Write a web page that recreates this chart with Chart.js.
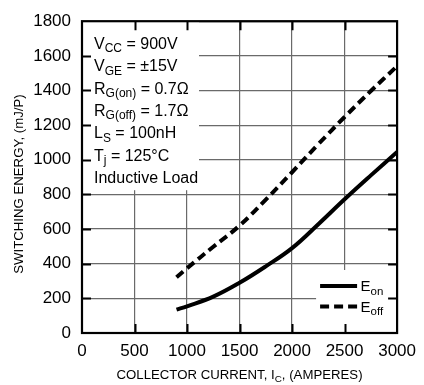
<!DOCTYPE html>
<html>
<head>
<meta charset="utf-8">
<script src="https://cdn.jsdelivr.net/npm/chart.js@4.4.1/dist/chart.umd.min.js"></script>
<style>
  html, body { margin: 0; padding: 0; background: #fff; }
  #wrap { width: 424px; height: 385px; }
</style>
</head>
<body>
<div id="wrap"><canvas id="chart" width="424" height="385"></canvas></div>
<script>
// collector current (A) and switching energy per pulse (mJ)
const currentAmps = [900, 1000, 1250, 1500, 1750, 2000, 2250, 2500, 2750, 3000];
const eOn  = [135, 154, 210, 290, 385, 490, 628, 772, 910, 1045];
const eOff = [322, 374, 498, 620, 770, 928, 1090, 1247, 1397, 1541];

const xTicks = [0, 500, 1000, 1500, 2000, 2500, 3000];
const yTicks = [0, 200, 400, 600, 800, 1000, 1200, 1400, 1600, 1800];

// test conditions: [symbol, subscript, rest]
const conditions = [
    ['V', 'CC', ' = 900V'],
    ['V', 'GE', ' = \u00b115V'],
    ['R', 'G(on)', ' = 0.7\u03a9'],
    ['R', 'G(off)', ' = 1.7\u03a9'],
    ['L', 'S', ' = 100nH'],
    ['T', 'j', ' = 125\u00b0C'],
    ['Inductive Load', '', '']
];
const legendLabels = [['E', 'on'], ['E', 'off']];
const xTitle = ['COLLECTOR CURRENT, I', 'C', ', (AMPERES)'];
const yTitle = 'SWITCHING ENERGY, (mJ/P)';

const FONT = '"Liberation Sans", Arial, Helvetica, sans-serif';

const toPoints = ys => currentAmps.map((x, i) => ({x: x, y: ys[i]}));

// draws "main + subscript + rest", returns end x
function subText(ctx, x, y, parts, size, subSize, shift) {
    ctx.font = `${size}px ${FONT}`;
    ctx.fillText(parts[0], x, y);
    x += ctx.measureText(parts[0]).width;
    if (parts[1]) {
        ctx.font = `${subSize}px ${FONT}`;
        ctx.fillText(parts[1], x, y + shift);
        x += ctx.measureText(parts[1]).width;
    }
    if (parts[2]) {
        ctx.font = `${size}px ${FONT}`;
        ctx.fillText(parts[2], x, y);
        x += ctx.measureText(parts[2]).width;
    }
    return x;
}

const framePlugin = {
    id: 'frame',
    beforeDatasetsDraw(chart) {
        const {ctx, chartArea: a} = chart;
        ctx.save();
        ctx.fillStyle = '#fff';
        // white backing for the conditions block and the legend
        ctx.fillRect(a.left, a.top, 117, 169);
        ctx.fillRect(a.right - 81, a.bottom - 63, 81, 63);

        ctx.fillStyle = '#000';
        ctx.textBaseline = 'alphabetic';
        ctx.textAlign = 'left';
        conditions.forEach((c, i) => {
            subText(ctx, a.left + 12, a.top + 27.5 + i * 22.4, c, 16, 12, 3.5);
        });
        ctx.restore();
    },
    afterDatasetsDraw(chart) {
        const {ctx, chartArea: a, scales: {x, y}} = chart;
        ctx.save();
        ctx.strokeStyle = '#000';
        ctx.lineWidth = 2;
        ctx.beginPath();
        xTicks.slice(1, -1).forEach(v => {
            const px = Math.round(x.getPixelForValue(v)) + 0.5;
            ctx.moveTo(px, a.top); ctx.lineTo(px, a.top + 9);
            ctx.moveTo(px, a.bottom); ctx.lineTo(px, a.bottom - 9);
        });
        yTicks.slice(1, -1).forEach(v => {
            const py = Math.round(y.getPixelForValue(v)) + 0.5;
            ctx.moveTo(a.left, py); ctx.lineTo(a.left + 9, py);
            ctx.moveTo(a.right, py); ctx.lineTo(a.right - 9, py);
        });
        ctx.stroke();
        ctx.lineWidth = 2.2;
        ctx.strokeRect(a.left, a.top, a.right - a.left, a.bottom - a.top);
        ctx.restore();
    },
    afterDraw(chart) {
        const {ctx, chartArea: a} = chart;
        ctx.save();
        ctx.fillStyle = '#000';
        ctx.textAlign = 'left';

        // legend
        chart.data.datasets.forEach((ds, i) => {
            const ly = a.bottom - 47 + i * 20.6;
            ctx.strokeStyle = ds.borderColor;
            ctx.lineWidth = ds.borderWidth;
            ctx.setLineDash(ds.borderDash || []);
            ctx.beginPath();
            ctx.moveTo(a.right - 77, ly);
            ctx.lineTo(a.right - 40, ly);
            ctx.stroke();
            ctx.setLineDash([]);
            subText(ctx, a.right - 36.5, ly + 5, [legendLabels[i][0], legendLabels[i][1], ''], 15, 11.5, 3.5);
        });

        // x axis title, slightly widened lettering
        ctx.font = `12px ${FONT}`;
        let w = ctx.measureText(xTitle[0]).width + ctx.measureText(xTitle[2]).width;
        ctx.font = `9px ${FONT}`;
        w += ctx.measureText(xTitle[1]).width;
        const sx = 1.1;
        ctx.save();
        ctx.translate((a.left + a.right) / 2 - w * sx / 2, 378.5);
        ctx.scale(sx, 1);
        subText(ctx, 0, 0, xTitle, 12, 9, 3);
        ctx.restore();

        // y axis title
        ctx.save();
        ctx.font = `12px ${FONT}`;
        ctx.translate(23, 184);
        ctx.rotate(-Math.PI / 2);
        ctx.scale(1.1, 1);
        ctx.textAlign = 'center';
        ctx.fillText(yTitle, 0, 0);
        ctx.restore();

        ctx.restore();
    }
};

new Chart(document.getElementById('chart'), {
    type: 'line',
    data: {
        datasets: [
            {
                label: 'Eon',
                data: toPoints(eOn),
                borderColor: '#000',
                borderWidth: 4,
                pointRadius: 0,
                tension: 0.4,
                fill: false
            },
            {
                label: 'Eoff',
                data: toPoints(eOff),
                borderColor: '#000',
                borderWidth: 4,
                borderDash: [9, 5],
                pointRadius: 0,
                tension: 0.4,
                fill: false
            }
        ]
    },
    options: {
        responsive: false,
        animation: false,
        devicePixelRatio: 1,
        layout: {padding: {top: 14, right: 22, bottom: 0, left: 0}},
        plugins: {
            legend: {display: false},
            tooltip: {enabled: false}
        },
        scales: {
            x: {
                type: 'linear',
                min: 0,
                max: 3000,
                afterBuildTicks: s => { s.ticks = xTicks.map(v => ({value: v})); },
                afterFit: s => { s.height = 52; },
                grid: {color: '#6a6a6a', lineWidth: 1.2, drawTicks: false},
                border: {display: false},
                ticks: {
                    color: '#000',
                    padding: 8,
                    maxRotation: 0,
                    font: {family: FONT, size: 17},
                    callback: v => String(v)
                }
            },
            y: {
                type: 'linear',
                min: 0,
                max: 1800,
                afterBuildTicks: s => { s.ticks = yTicks.map(v => ({value: v})); },
                afterFit: s => { s.width = 82; },
                grid: {color: '#6a6a6a', lineWidth: 1.2, drawTicks: false},
                border: {display: false},
                ticks: {
                    color: '#000',
                    padding: 11,
                    font: {family: FONT, size: 17},
                    callback: v => String(v)
                }
            }
        }
    },
    plugins: [framePlugin]
});
</script>
</body>
</html>
